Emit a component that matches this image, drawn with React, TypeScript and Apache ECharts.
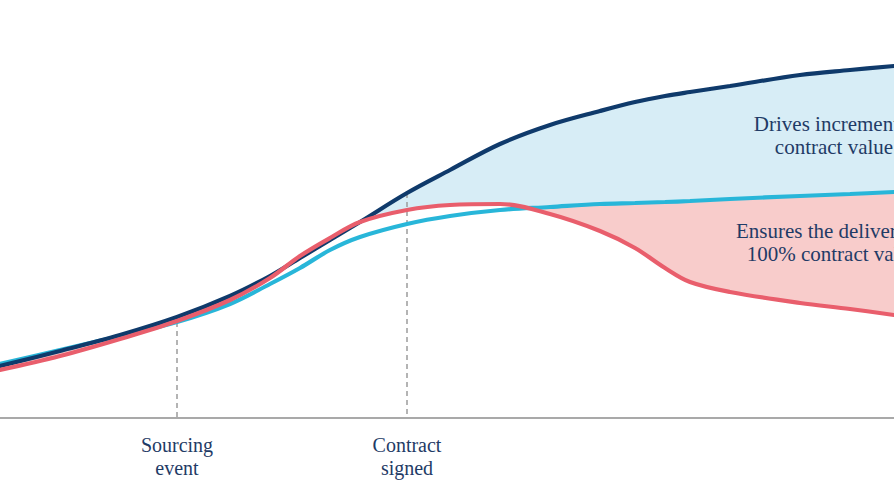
import React, { useEffect, useRef } from "react";
import * as echarts from "echarts";

// Position along the process timeline (horizontal units)
const stageX = [0, 60, 120, 177, 230, 270, 300, 330, 360, 407, 450, 500, 550, 600, 635, 665, 690, 730, 800, 850, 894];
// Value curves
const navyValues = [52, 67, 83, 101, 122, 142, 160, 178, 196, 225, 248, 274, 293, 307, 316, 322, 326, 332, 343, 348, 352];
const cyanValues = [54, 68, 82, 96, 114, 134, 150, 168, 181, 194, 202, 208, 211, 214, 215, 216, 217, 219, 222, 224, 226];
const pinkValues = [48, 62, 79, 97, 118, 140, 162, 180, 196, 208, 213, 214, 204, 187, 170, 150, 136, 126, 115, 109, 103];

const eventX = [177, 407];
const eventLabels = ["Sourcing\nevent", "Contract\nsigned"];
const eventTopValues = [cyanValues[stageX.indexOf(177)], navyValues[stageX.indexOf(407)]];

const annotations = ["Drives incremental\ncontract value", "Ensures the delivery of\n100% contract value"];

const NAVY = "#0f3a6b";
const CYAN = "#28b6d9";
const PINK = "#e95e6c";
const BLUE_FILL = "#d7edf6";
const PINK_FILL = "#f8cccb";
const TEXT = "#1f3b66";
const FONT = '"Liberation Serif", serif';

const pts = (ys: number[]) => stageX.map((x, i) => [x, ys[i]]);

export default function App() {
  const ref = useRef<HTMLDivElement>(null);
  useEffect(() => {
    if (!ref.current) return;
    const chart = echarts.init(ref.current, null, { renderer: "svg" });
    const smooth = 0.35;
    const areaSeries = (ys: number[], fill: string, z: number) => ({
      type: "line",
      data: pts(ys),
      smooth,
      symbol: "none",
      lineStyle: { width: 0, opacity: 0 },
      areaStyle: { color: fill, opacity: 1 },
      z,
      silent: true,
    });
    const lineSeries = (ys: number[], color: string, z: number, extra: any = {}) => ({
      type: "line",
      data: pts(ys),
      smooth,
      symbol: "none",
      lineStyle: { width: 4.2, color, cap: "round" },
      z,
      silent: true,
      ...extra,
    });
    const option: any = {
      animation: false,
      backgroundColor: "#ffffff",
      grid: { left: 0, right: 0, top: 0, bottom: 84, containLabel: false, outerBoundsMode: "none" },
      xAxis: {
        type: "value",
        min: 0,
        max: 894,
        z: 10,
        axisLine: { show: true, onZero: false, lineStyle: { color: "#a9a9a9", width: 2 } },
        axisTick: { show: false },
        splitLine: { show: false },
        axisLabel: {
          customValues: eventX,
          formatter: (v: number) => eventLabels[eventX.indexOf(v)] ?? "",
          fontFamily: FONT,
          fontSize: 20,
          lineHeight: 23,
          color: TEXT,
          margin: 15,
        },
      },
      yAxis: { type: "value", min: 0, max: 418, show: false },
      series: [
        areaSeries(navyValues, BLUE_FILL, 1),
        areaSeries(cyanValues, PINK_FILL, 2),
        areaSeries(pinkValues, "#ffffff", 3),
        lineSeries(cyanValues, CYAN, 5),
        lineSeries(navyValues, NAVY, 6),
        lineSeries(pinkValues, PINK, 7, {
          markLine: {
            silent: true,
            symbol: "none",
            label: { show: false },
            lineStyle: { color: "#9c9c9c", width: 1.5, type: [5, 4] },
            data: eventX.map((x, i) => [{ coord: [x, eventTopValues[i]] }, { coord: [x, 0] }]),
          },
        }),
      ],
      graphic: [
        {
          type: "text",
          z: 20,
          style: {
            text: annotations[0],
            x: 834,
            y: 112,
            align: "center",
            verticalAlign: "top",
            font: `21px ${FONT}`,
            lineHeight: 23,
            fill: TEXT,
          },
        },
        {
          type: "text",
          z: 20,
          style: {
            text: annotations[1],
            x: 833,
            y: 219,
            align: "center",
            verticalAlign: "top",
            font: `21px ${FONT}`,
            lineHeight: 23,
            fill: TEXT,
          },
        },
      ],
    };
    chart.setOption(option);
    return () => chart.dispose();
  }, []);
  return (
    <div
      ref={ref}
      style={{ position: "fixed", left: 0, top: 0, width: 894, height: 502, background: "#fff" }}
    />
  );
}
